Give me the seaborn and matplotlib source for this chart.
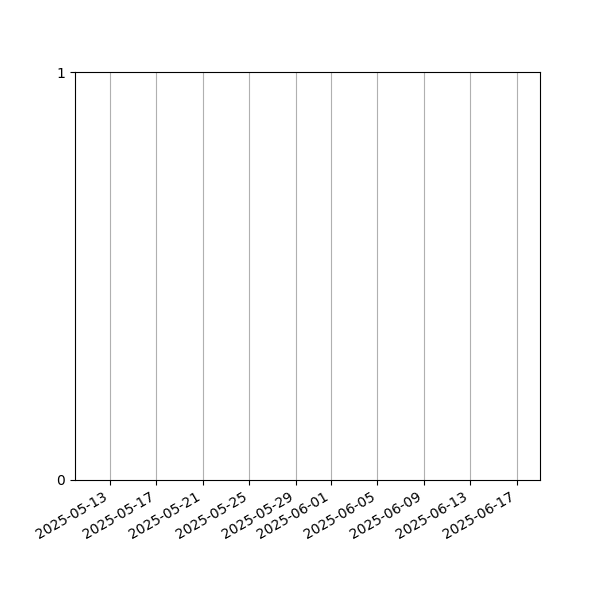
import numpy as np
import pandas as pd
import matplotlib
matplotlib.use("Agg")
import matplotlib.pyplot as plt
import seaborn as sns

# Date range shown on the axis; the series itself has no visible values
dates = ["2025-05-10", "2025-06-19"]
values = [np.nan, np.nan]
y_ticks = [0, 1]

df = pd.DataFrame({"date": pd.to_datetime(dates), "value": values})

fig, ax = plt.subplots(figsize=(6, 6), dpi=100)
sns.lineplot(data=df, x="date", y="value", ax=ax)

ax.set_xlim(df["date"].min(), df["date"].max())
ax.set_ylim(0, 1)
ax.set_yticks(y_ticks)
ax.set_xlabel("")
ax.set_ylabel("")
ax.grid(True, axis="x")
fig.autofmt_xdate()

plt.savefig("out.png", dpi=100)
